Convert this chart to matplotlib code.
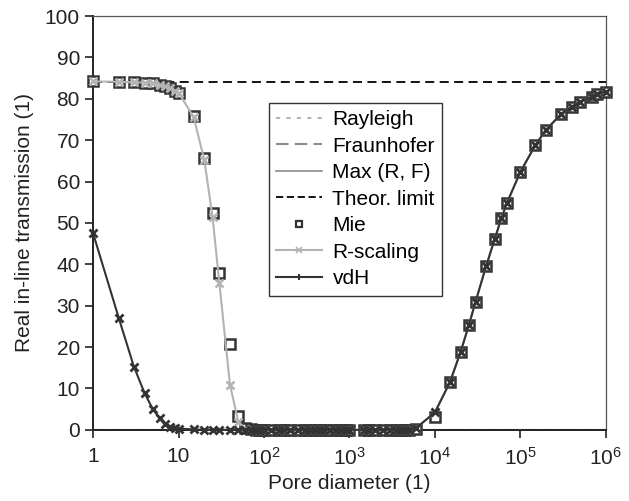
import numpy as np
import matplotlib.pyplot as plt
from matplotlib.lines import Line2D

plt.rcParams['font.family'] = ['Liberation Sans', 'DejaVu Sans']
plt.rcParams['mathtext.fontset'] = 'custom'
plt.rcParams['mathtext.rm'] = 'Liberation Sans'

# pore diameter grid (1)
diam = [1, 2, 3, 4, 5, 6, 7, 8, 9, 10, 15, 20, 25, 30, 40, 50, 60, 70, 80, 90,
        100, 120, 150, 170, 200, 250, 300, 350, 400, 450, 500, 600, 700, 800, 900,
        1000, 1500, 1700, 2000, 2500, 3000, 3500, 4000, 4500, 5000, 6000,
        1e4, 1.5e4, 2e4, 2.5e4, 3e4, 4e4, 5e4, 6e4, 7e4,
        1e5, 1.5e5, 2e5, 3e5, 4e5, 5e5, 7e5, 8e5, 1e6]

mie = [84.2, 84.1, 84.0, 83.9, 83.7, 83.4, 83.0, 82.5, 82.0, 81.5, 75.8, 65.8, 52.5, 38.0, 20.8, 3.4, 0.5, 0.1, 0.0, 0.0,
       0, 0, 0, 0, 0, 0, 0, 0, 0, 0, 0, 0, 0, 0, 0,
       0, 0, 0, 0, 0, 0, 0, 0, 0, 0, 0.3,
       3.2, 11.5, 18.8, 25.3, 31.0, 39.7, 46.0, 51.1, 54.9,
       62.3, 68.8, 72.5, 76.3, 78.1, 79.3, 80.5, 81.2, 81.7]

r_scaling = [84.2, 84.1, 84.0, 83.9, 83.7, 83.4, 83.0, 82.5, 82.0, 81.5, 75.6, 65.3, 51.5, 35.6, 10.9, 2.0, 0.3, 0.0, 0.0, 0.0,
             0, 0, 0, 0, 0, 0, 0, 0, 0, 0, 0, 0, 0, 0, 0,
             0, 0, 0, 0, 0, 0, 0, 0, 0, 0, 0.4,
             4.2, 11.5, 18.8, 25.3, 31.0, 39.7, 46.0, 51.1, 54.9,
             62.3, 68.8, 72.5, 76.3, 78.1, 79.3, 80.5, 81.2, 81.7]

vdh = [47.5, 27.0, 15.3, 8.9, 5.0, 2.8, 1.4, 0.8, 0.5, 0.3, 0.1, 0.0, 0.0, 0.0, 0.0, 0.0, 0.0, 0.0, 0.0, 0.0,
       0, 0, 0, 0, 0, 0, 0, 0, 0, 0, 0, 0, 0, 0, 0,
       0, 0, 0, 0, 0, 0, 0, 0, 0, 0, 0.4,
       4.2, 11.5, 18.8, 25.3, 31.0, 39.7, 46.0, 51.1, 54.9,
       62.3, 68.8, 72.5, 76.3, 78.1, 79.3, 80.5, 81.2, 81.7]

rayleigh = [0.0] * len(diam)
fraunhofer = [0.0] * len(diam)
max_rf = [0.0] * len(diam)
theor_limit = 84.1

x_ticks = [1, 10, 1e2, 1e3, 1e4, 1e5, 1e6]
x_ticklabels = ['1', '10', r'$\mathregular{10^2}$', r'$\mathregular{10^3}$',
                r'$\mathregular{10^4}$', r'$\mathregular{10^5}$', r'$\mathregular{10^6}$']

c_light = '#b3b3b3'
c_mid = '#8c8c8c'
c_dark = '#333333'
fs = 15

fig = plt.figure(figsize=(6.29, 5.01), dpi=100)
ax = fig.add_axes([0.148, 0.142, 0.815, 0.826])

ax.plot(diam, rayleigh, color=c_light, ls=(0, (2, 3)), lw=1.5)
ax.plot(diam, fraunhofer, color=c_mid, ls=(0, (6, 3)), lw=1.5)
ax.plot(diam, max_rf, color=c_mid, ls='-', lw=1.2)
ax.plot([diam[0], diam[-1]], [theor_limit, theor_limit], color='black', ls=(0, (5, 3)), lw=1.3)

ax.plot(diam, mie, ls='none', marker='s', ms=6.5, mfc='white', mec=c_dark, mew=1.8,
        clip_on=False, zorder=3)
ax.plot(diam, r_scaling, color=c_light, lw=1.5, marker='x', ms=6, mew=1.8,
        clip_on=False, zorder=4)
ax.plot(diam, vdh, color=c_dark, lw=1.5, marker='x', ms=6, mew=2.0,
        clip_on=False, zorder=5)

ax.set_xscale('log')
ax.set_xlim(1, 1e6)
ax.set_ylim(0, 100)
ax.set_xticks(x_ticks)
ax.set_xticklabels(x_ticklabels)
ax.xaxis.set_minor_locator(plt.NullLocator())
ax.set_yticks(np.arange(0, 101, 10))
ax.tick_params(direction='out', length=6, width=1.2, labelsize=fs, top=False, right=False,
               colors='#222222')
ax.tick_params(axis='x', pad=6)

for s in ['left', 'bottom']:
    ax.spines[s].set_linewidth(1.4)
    ax.spines[s].set_color('#222222')
for s in ['top', 'right']:
    ax.spines[s].set_linewidth(0.9)
    ax.spines[s].set_color('#555555')

ax.set_xlabel('Pore diameter (1)', fontsize=fs, color='#222222', labelpad=4)
ax.set_ylabel('Real in-line transmission (1)', fontsize=fs, color='#222222', labelpad=8)

handles = [
    Line2D([], [], color=c_light, ls=(0, (2, 3)), lw=1.5),
    Line2D([], [], color=c_mid, ls=(0, (6, 3)), lw=1.5),
    Line2D([], [], color=c_mid, ls='-', lw=1.2),
    Line2D([], [], color='black', ls=(0, (4, 2)), lw=1.3),
    Line2D([], [], ls='none', marker='s', ms=5, mfc='white', mec=c_dark, mew=1.6),
    Line2D([], [], color=c_light, lw=1.5, marker='x', ms=4, mew=1.2),
    Line2D([], [], color=c_dark, lw=1.5, marker='|', ms=5, mew=1.5),
]
labels = ['Rayleigh', 'Fraunhofer', 'Max (R, F)', 'Theor. limit', 'Mie', 'R-scaling', 'vdH']
leg = ax.legend(handles, labels, loc='upper left', bbox_to_anchor=(0.343, 0.79),
                fontsize=fs, frameon=True, fancybox=False, framealpha=1,
                edgecolor='#333333', borderpad=0.35, labelspacing=0.36,
                handlelength=2.2, handletextpad=0.5, borderaxespad=0)
leg.get_frame().set_linewidth(1.0)
leg.set_zorder(6)

fig.savefig('out.png', dpi=100)
